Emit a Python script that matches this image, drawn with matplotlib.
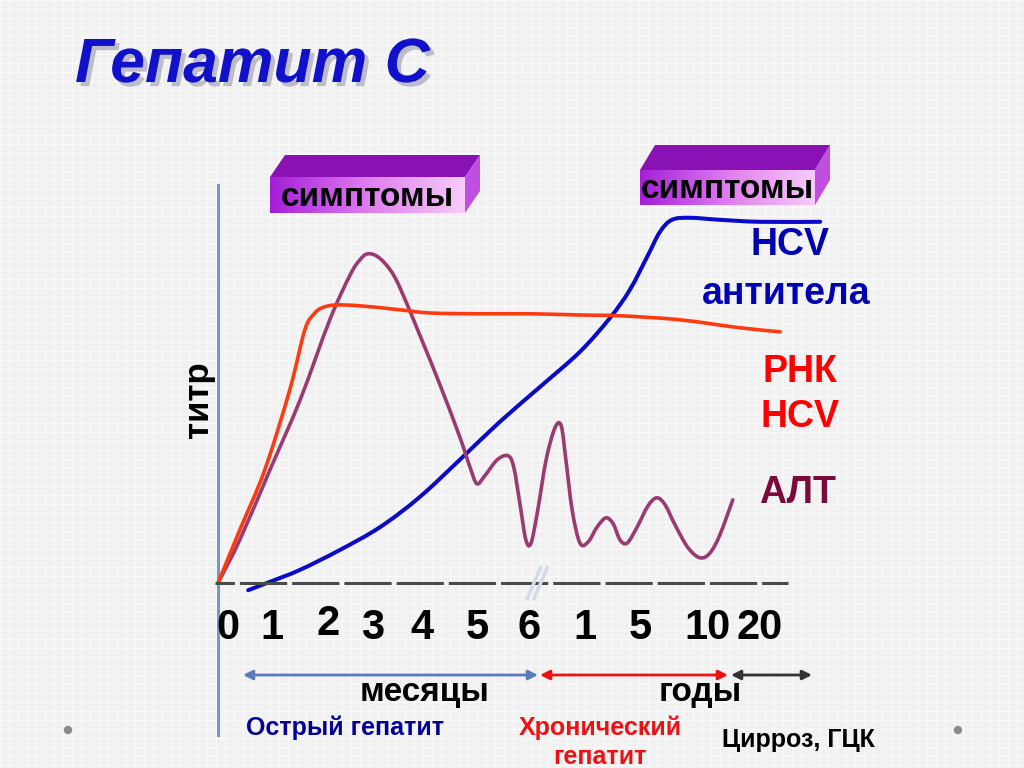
import numpy as np
import matplotlib
matplotlib.use("Agg")
import matplotlib.pyplot as plt
import matplotlib.patheffects as pe
from matplotlib.patches import Polygon, Circle, PathPatch
from matplotlib.path import Path

plt.rcParams['font.family'] = ['Liberation Sans', 'DejaVu Sans']
plt.rcParams['lines.scale_dashes'] = False

# time axis: position along the axis (months, then years after the break)
tick_pos = [0.19, 1.04, 2.12, 2.98, 3.92, 4.98, 5.98, 7.06, 8.12, 9.42, 10.42]
tick_lab = ['0', '1', '2', '3', '4', '5', '6', '1', '5', '10', '20']

# РНК HCV
rna_x = [0, 0.42, 0.90, 1.38, 1.67, 1.85, 2.0, 2.25, 2.73, 3.5, 4.08, 5.04, 6.0, 6.96, 7.73, 8.88, 10.04, 10.81]
rna_y = [0, 13.3, 28.3, 48.3, 63.3, 67.3, 68.8, 69.5, 69.3, 68.3, 67.5, 67.3, 67.3, 67.0, 66.8, 65.8, 63.8, 62.8]

# АЛТ
alt_x = [0, 0.42, 1.0, 1.58, 2.15, 2.54, 2.73, 2.88, 3.08, 3.31, 3.5, 3.88, 4.27, 4.65, 4.85, 4.98,
         5.13, 5.37, 5.58, 5.69, 5.81, 5.92, 6.02, 6.15, 6.31, 6.48, 6.6, 6.69, 6.81, 6.96, 7.12,
         7.29, 7.46, 7.6, 7.73, 7.87, 8.06, 8.27, 8.44, 8.6, 8.79, 9.04, 9.27, 9.46, 9.65, 9.9]
alt_y = [0, 10.8, 28.3, 45.8, 65.8, 77, 80.8, 82.3, 81.5, 78.3, 73.8, 62, 49.5, 36.5, 28.8, 24.8,
         26.8, 30.8, 31.8, 28.8, 19.5, 10.8, 10, 18.3, 30.8, 38.8, 39.3, 30.8, 18.3, 10, 10.3,
         14, 16.3, 14.8, 10.8, 10, 14, 19.3, 21.3, 19.5, 14.5, 8.8, 6.3, 7.5, 12, 20.8]

# HCV антитела
ab_x = [0.58, 1.0, 1.58, 2.35, 3.12, 3.88, 4.65, 5.42, 6.19, 6.96, 7.54, 7.92, 8.27, 8.5, 8.73,
        9.08, 9.65, 10.42, 11.58]
ab_y = [-1.8, 0.3, 3.3, 8.3, 14, 21.5, 30.8, 40.3, 49, 57.8, 66.3, 73.3, 82, 87.8, 90.8,
        91.3, 90.8, 90.3, 90.3]

W, H = 1024, 768
fig = plt.figure(figsize=(10.24, 7.68), dpi=100)
fig.patch.set_facecolor('#f1f1f1')

# background / decoration layer in pixel coordinates
bg = fig.add_axes([0, 0, 1, 1], zorder=0)
bg.axis('off')
for gx in np.arange(0, W, 9):
    bg.axvline(gx, color='white', lw=0.6, alpha=0.7, zorder=0.1)
for gy in np.arange(0, H, 9):
    bg.axhline(gy, color='white', lw=0.6, alpha=0.7, zorder=0.1)

# title
bg.text(75, 82, 'Гепатит С', fontsize=45, fontweight='bold', fontstyle='italic',
        color='#1111cc', va='baseline', ha='left',
        path_effects=[pe.withSimplePatchShadow(offset=(3, -3), shadow_rgbFace='#8888a0', alpha=0.5)])


def box3d(x0, x1, ytop, ybot, dx, dy, label):
    bg.add_patch(Polygon([(x0, ytop), (x0 + dx, ytop - dy), (x1 + dx, ytop - dy), (x1, ytop)],
                         closed=True, color='#8a12b4', lw=0, zorder=3))
    bg.add_patch(Polygon([(x1, ytop), (x1 + dx, ytop - dy), (x1 + dx, ybot - dy), (x1, ybot)],
                         closed=True, color='#c04ee0', lw=0, zorder=3))
    grad = np.linspace(0, 1, 200)[None, :]
    cmap = matplotlib.colors.LinearSegmentedColormap.from_list('g', ['#a41ed8', '#e07cf0', '#f6ccf6'])
    bg.imshow(grad, extent=[x0, x1, ybot, ytop], aspect='auto', cmap=cmap, zorder=3)
    bg.text((x0 + x1) / 2, (ytop + ybot) / 2 + 2, label, fontsize=24, fontweight='bold',
            color='black', ha='center', va='center', zorder=4)


box3d(270, 465, 177, 213, 15, 22, 'симптомы')
box3d(640, 815, 170, 205, 15, 25, 'симптомы')
bg.set_xlim(0, W)
bg.set_ylim(H, 0)

# vertical axis line
bg.plot([218, 218], [185, 735], color='#7b95c8', lw=2.2, zorder=2)

# period arrows
arr = [(243, 538, '#5b7bbd'), (540, 728, '#ee1111'), (731, 812, '#333333')]
for a, b, c in arr:
    bg.annotate('', xy=(a, 675), xytext=(b, 675),
                arrowprops=dict(arrowstyle='<|-|>', color=c, lw=2, mutation_scale=14,
                                shrinkA=0, shrinkB=0))

bg.text(425, 692, 'месяцы', fontsize=24, fontweight='bold', ha='center', va='center')
bg.text(700, 692, 'годы', fontsize=24, fontweight='bold', ha='center', va='center')
bg.text(345, 728, 'Острый гепатит', fontsize=18, fontweight='bold', color='#000099',
        ha='center', va='center')
bg.text(600, 728, 'Хронический', fontsize=18, fontweight='bold', color='#ee1111',
        ha='center', va='center')
bg.text(600, 757, 'гепатит', fontsize=18, fontweight='bold', color='#ee1111',
        ha='center', va='center')
bg.text(798, 740, 'Цирроз, ГЦК', fontsize=18, fontweight='bold', color='black',
        ha='center', va='center')

# curve labels
bg.text(790, 245, 'HCV', fontsize=27, fontweight='bold', color='#0000b4', ha='center', va='center')
bg.text(786, 294, 'антитела', fontsize=27, fontweight='bold', color='#0000b4', ha='center', va='center')
bg.text(800, 372, 'РНК', fontsize=27, fontweight='bold', color='#ff0000', ha='center', va='center')
bg.text(800, 417, 'HCV', fontsize=27, fontweight='bold', color='#ff0000', ha='center', va='center')
bg.text(797, 493, 'АЛТ', fontsize=27, fontweight='bold', color='#7a0a3a', ha='center', va='center')
bg.text(198, 400, 'титр', fontsize=25, fontweight='bold', color='black', rotation=90,
        ha='center', va='center')

for cx in (68, 958):
    bg.add_patch(Circle((cx, 730), 3.5, color='#8a8a8a'))

# data layer
ax = fig.add_axes([218 / W, 1 - 603 / H, 610 / W, 420 / H], zorder=2)
ax.set_xlim(0, 610 / 52)
ax.set_ylim(-5, 100)
ax.patch.set_alpha(0)
ax.axis('off')


def smooth_path(xs, ys):
    # Catmull-Rom through the read points, drawn as cubic Bezier segments
    p = np.column_stack([xs, ys]).astype(float)
    verts = [p[0]]
    codes = [Path.MOVETO]
    for i in range(len(p) - 1):
        p0 = p[i - 1] if i > 0 else p[i]
        p3 = p[i + 2] if i + 2 < len(p) else p[i + 1]
        c1 = p[i] + (p[i + 1] - p0) / 6
        c2 = p[i + 1] - (p3 - p[i]) / 6
        verts += [c1, c2, p[i + 1]]
        codes += [Path.CURVE4] * 3
    return Path(verts, codes)


ax.plot([-0.06, 10.96], [0, 0], color='#4a4a4a', lw=2.2, linestyle=(20, (34, 3.6)),
        solid_capstyle='butt', clip_on=False)
# break mark
ax.plot([5.95, 6.2], [-3.8, 3.8], color='#d4dbe6', lw=2.5, clip_on=False)
ax.plot([6.08, 6.33], [-3.8, 3.8], color='#d4dbe6', lw=2.5, clip_on=False)

for xs, ys, c, lw in [(ab_x, ab_y, '#0a0ac8', 2.9), (alt_x, alt_y, '#9b3a70', 2.6),
                      (rna_x, rna_y, '#ff3a10', 2.6)]:
    ax.add_patch(PathPatch(smooth_path(xs, ys), fill=False, edgecolor=c, lw=lw,
                           joinstyle='round', capstyle='round', clip_on=False))

for p, lab in zip(tick_pos, tick_lab):
    ax.text(p, -10.2 if lab == '2' else -11.2, lab, fontsize=30, fontweight='bold',
            ha='center', va='center', clip_on=False)

fig.savefig('out.png', dpi=100, facecolor=fig.get_facecolor())
